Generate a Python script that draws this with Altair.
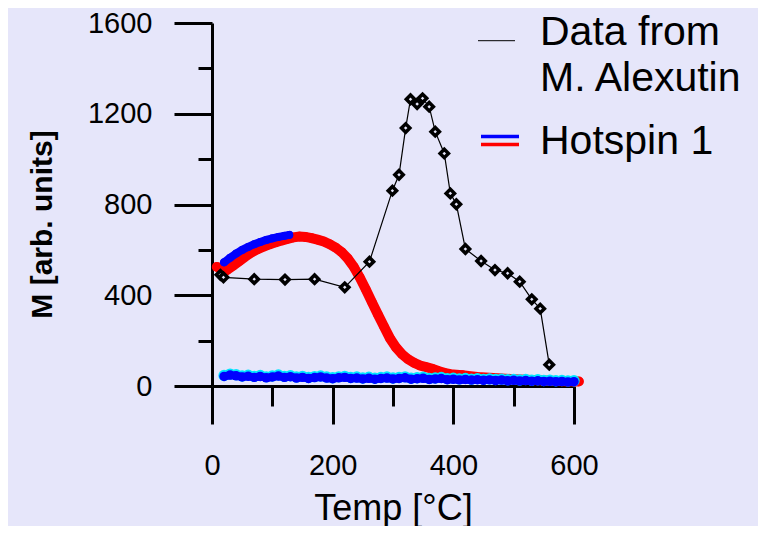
import altair as alt
import pandas as pd

BG = "#e6e6fa"
FONT = "Liberation Sans"

# Data from M. Alexutin (black diamonds)
alex_temp = [14, 19, 70, 121, 170, 220, 261, 299, 310, 321, 329, 340, 349, 360, 370, 385, 395, 405, 420, 446, 469, 490, 510, 530, 544, 559]
alex_m = [490, 479, 471, 469, 471, 435, 548, 861, 931, 1137, 1264, 1243, 1268, 1231, 1121, 1025, 849, 801, 604, 551, 511, 497, 460, 382, 341, 94]

# Hotspin 1 - heating curve (red)
heat_temp = [8, 15, 25, 35, 45, 55, 65, 75, 85, 95, 105, 115, 125, 135, 145, 155, 165, 175, 185, 195,
             205, 215, 225, 235, 245, 255, 265, 275, 285, 295, 305, 315, 325, 335, 345, 355, 365, 375,
             385, 395, 405, 415, 425, 440, 460, 480, 500, 520, 540, 560, 580, 600, 608]
heat_m = [525, 518, 512, 530, 550, 570, 588, 602, 614, 624, 633, 641, 648, 655, 659, 657, 652, 645, 637, 625,
          610, 590, 562, 525, 478, 425, 370, 315, 262, 210, 170, 140, 118, 102, 90, 83, 76, 66,
          58, 52, 50, 48, 44, 40, 36, 33, 30, 28, 25, 23, 21, 20, 20]

# Hotspin 1 - second run, rising part (blue)
rise_temp = [20, 30, 40, 50, 60, 70, 80, 90, 100, 110, 120, 128]
rise_m = [545, 565, 584, 600, 613, 625, 635, 644, 651, 657, 662, 666]

# Hotspin 1 - cooling curve (blue with cyan rim)
cool_temp = [20, 30, 40, 50, 60, 70, 80, 90, 100, 110, 120, 130, 140, 150, 160, 170, 180, 190, 200, 210,
             220, 230, 240, 250, 260, 270, 280, 290, 300, 310, 320, 330, 340, 350, 360, 370, 380, 390,
             400, 410, 420, 430, 440, 450, 460, 470, 480, 490, 500, 510, 520, 530, 540, 550, 560, 570,
             580, 590, 600]
cool_m = [42, 48, 45, 40, 43, 38, 42, 36, 40, 44, 38, 41, 35, 38, 33, 37, 40, 35, 32, 36,
          38, 33, 35, 31, 34, 30, 33, 35, 31, 33, 36, 30, 32, 34, 29, 31, 33, 28,
          30, 27, 29, 26, 28, 25, 27, 24, 26, 23, 25, 22, 24, 21, 23, 20, 21, 19,
          20, 18, 19]

x_major = [0, 200, 400, 600]
x_minor = [100, 300, 500]
y_major = [0, 400, 800, 1200, 1600]
y_minor = [200, 600, 1000, 1400]

alex = pd.DataFrame({"T": alex_temp, "M": alex_m})
heat = pd.DataFrame({"T": heat_temp, "M": heat_m})
rise = pd.DataFrame({"T": rise_temp, "M": rise_m})
cool = pd.DataFrame({"T": cool_temp, "M": cool_m})
one = pd.DataFrame({"a": [0]})

xs = alt.Scale(domain=[0, 600], nice=False, zero=False)
ys = alt.Scale(domain=[0, 1600], nice=False)

common_axis = dict(grid=False, tickColor="black", tickWidth=3, domainColor="black", domainWidth=3,
                   labelFont=FONT, labelColor="black", labelFontSize=29, titleFont=FONT,
                   titleColor="black", labelOverlap=False, labelFlush=False)

x_major_axis = alt.Axis(orient="bottom", values=x_major, tickSize=38, labelPadding=27,
                        title="Temp [°C]", titleFontSize=36, titleFontWeight="normal",
                        titleY=133, titleBaseline="alphabetic", format="d", **common_axis)
y_major_axis = alt.Axis(orient="left", values=y_major, tickSize=38, labelPadding=22,
                        title="M [arb. units]", titleFontSize=30, titleFontWeight="bold",
                        titleX=-161, titleY=201, titleAngle=270, titleAlign="center",
                        titleBaseline="alphabetic", format="d", **common_axis)
x_minor_axis = alt.Axis(orient="bottom", values=x_minor, tickSize=20, labels=False, domain=False,
                        title=None, grid=False, tickColor="black", tickWidth=3)
y_minor_axis = alt.Axis(orient="left", values=y_minor, tickSize=14, labels=False, domain=False,
                        title=None, grid=False, tickColor="black", tickWidth=3)

# red heating curve
heat_line = alt.Chart(heat).mark_line(color="#ff0000", strokeWidth=10, strokeCap="round").encode(
    x=alt.X("T:Q", scale=xs, axis=x_major_axis),
    y=alt.Y("M:Q", scale=ys, axis=y_major_axis),
)
heat_pts = alt.Chart(heat).mark_circle(color="#ff0000", size=90, opacity=1).encode(
    x=alt.X("T:Q", scale=xs, axis=x_minor_axis),
    y=alt.Y("M:Q", scale=ys, axis=y_minor_axis),
)

rise_line = alt.Chart(rise).mark_line(color="#0000ff", strokeWidth=8, strokeCap="round").encode(
    x=alt.X("T:Q", scale=xs, axis=None), y=alt.Y("M:Q", scale=ys, axis=None))
rise_pts = alt.Chart(rise).mark_circle(color="#0000ff", size=64, opacity=1).encode(
    x=alt.X("T:Q", scale=xs, axis=None), y=alt.Y("M:Q", scale=ys, axis=None))

cool_cyan = alt.Chart(cool).mark_circle(color="#00e5ff", size=130, opacity=1, yOffset=-1).encode(
    x=alt.X("T:Q", scale=xs, axis=None), y=alt.Y("M:Q", scale=ys, axis=None))
cool_line = alt.Chart(cool).mark_line(color="#0000ff", strokeWidth=8).encode(
    x=alt.X("T:Q", scale=xs, axis=None), y=alt.Y("M:Q", scale=ys, axis=None))
cool_blue = alt.Chart(cool).mark_circle(color="#0000ff", size=90, opacity=1).encode(
    x=alt.X("T:Q", scale=xs, axis=None), y=alt.Y("M:Q", scale=ys, axis=None))

alex_line = alt.Chart(alex).mark_line(color="black", strokeWidth=1.2).encode(
    x=alt.X("T:Q", scale=xs, axis=None), y=alt.Y("M:Q", scale=ys, axis=None))
alex_pts = alt.Chart(alex).mark_point(shape="diamond", filled=True, fill=BG, stroke="black",
                                      strokeWidth=3.5, size=70, opacity=1).encode(
    x=alt.X("T:Q", scale=xs, axis=None), y=alt.Y("M:Q", scale=ys, axis=None))

# manual legend
def txt(s, x, y):
    return alt.Chart(one).mark_text(text=s, font=FONT, fontSize=41, color="black", align="left",
                                    baseline="alphabetic").encode(x=alt.value(x), y=alt.value(y))

def rule(color, x1, x2, y, w):
    return alt.Chart(one).mark_rule(color=color, strokeWidth=w).encode(
        x=alt.value(x1), x2=alt.value(x2), y=alt.value(y))

legend = [
    rule("black", 266, 303, 17.7, 1),
    txt("Data from", 328, 22),
    txt("M. Alexutin", 328, 67.7),
    rule("#0000ff", 269, 307, 113.5, 3.5),
    rule("#ff0000", 269, 307, 121.5, 3.5),
    txt("Hotspin 1", 328, 131),
]

chart = alt.layer(
    heat_line, heat_pts, rise_line, rise_pts, cool_cyan, cool_line, cool_blue,
    alex_line, alex_pts, *legend
).resolve_axis(x="independent", y="independent").properties(
    width=362, height=363,
    autosize=alt.AutoSizeParams(type="none"),
    padding={"left": 204, "top": 15, "right": 184, "bottom": 140},
    background=BG,
).configure_view(stroke=None)

chart.save("out.html", embed_options={"renderer": "svg", "actions": False})
